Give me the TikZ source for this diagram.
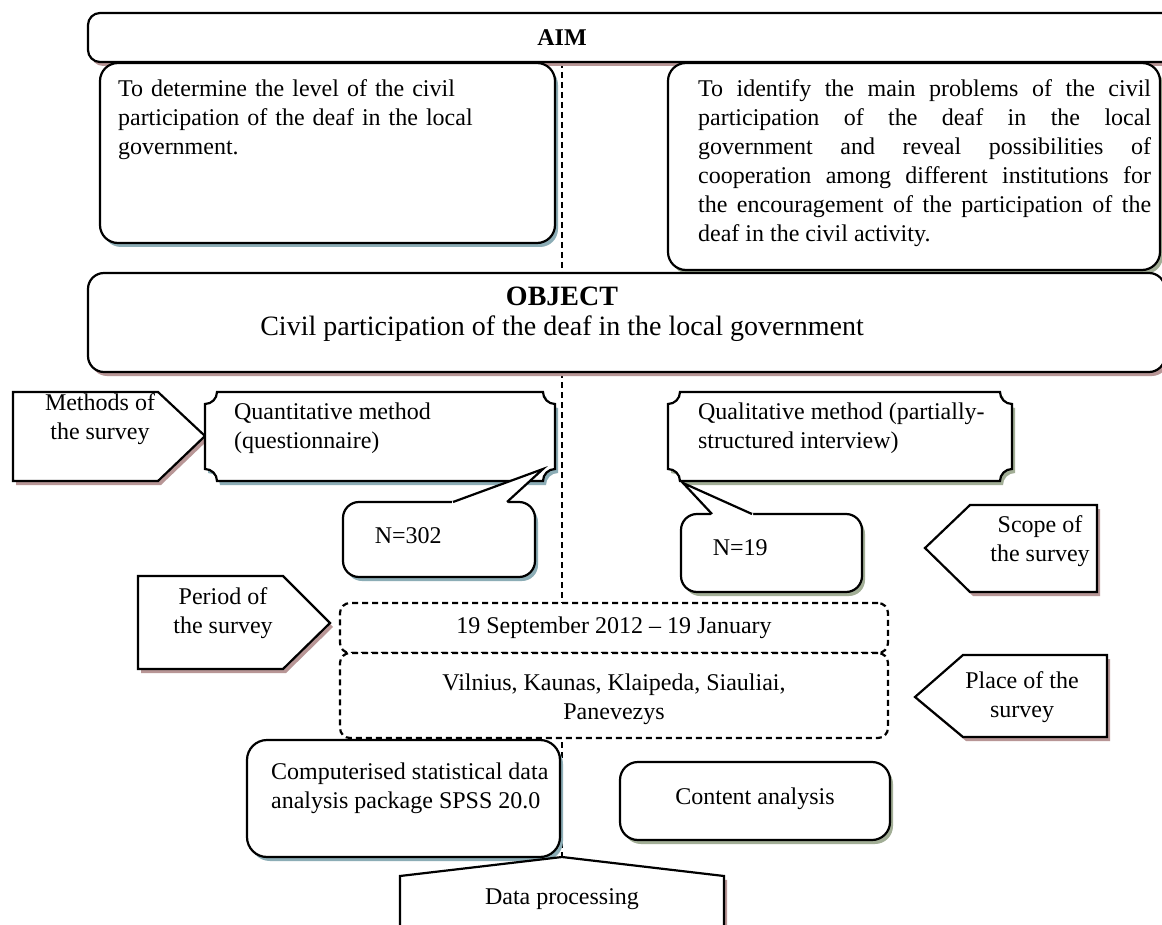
\documentclass[tikz,border=0pt]{standalone}
\usepackage{fontspec}
\setmainfont{Liberation Serif}
\usetikzlibrary{shapes,shadows,fit}
\definecolor{shpink}{HTML}{B89696}
\definecolor{shblue}{HTML}{8CADB6}
\definecolor{shgreen}{HTML}{A2AE96}
\tikzset{box/.style={draw,fill=white,rounded corners=9pt,inner sep=0pt},
  dbox/.style={draw,fill=white,dash pattern=on 3pt off 2pt,rounded corners=5pt,inner sep=0pt},
  pinkshadow/.style={drop shadow={shadow xshift=1.5pt,shadow yshift=-2pt,fill=shpink,opacity=1}},
  blueshadow/.style={drop shadow={shadow xshift=1.5pt,shadow yshift=-2pt,fill=shblue,opacity=1}},
  greenshadow/.style={drop shadow={shadow xshift=1.5pt,shadow yshift=-2pt,fill=shgreen,opacity=1}},
  txt/.style={inner sep=0pt,align=left},
  divline/.style={dash pattern=on 3pt off 2pt}}
% plaque with hollow corners: x1,y1,x2,y2,shadow
\newcommand{\plaque}[5]{\draw[#5,fill=white] (#1,#2+12) arc[start angle=90,end angle=0,radius=12]
  -- (#3-12,#2) arc[start angle=180,end angle=90,radius=12]
  -- (#3,#4-12) arc[start angle=270,end angle=180,radius=12]
  -- (#1+12,#4) arc[start angle=0,end angle=-90,radius=12] -- cycle;}
\begin{document}
\begin{tikzpicture}[x=0.5pt,y=-0.5pt,line width=1.1pt,every node/.style={font=\fontsize{12}{14.5}\selectfont}]
\useasboundingbox (0,0) rectangle (1162,925);
\clip (0,0) rectangle (1162,925);
\fill[white] (0,0) rectangle (1162,925);

\coordinate (divtop) at (562,62);
\coordinate (divbot) at (562,858);
\draw[divline] (divtop) -- (divbot);

% aim
\node[box,pinkshadow,rounded corners=6pt,fit={(88,13) (1185,62)}] (aim) {};
\node[font=\fontsize{12}{14}\selectfont\bfseries] (aimtxt) at (562,38) {AIM};
\node[box,blueshadow,fit={(100,63) (555,243)}] (aimL) {};
\node[txt,anchor=north west,text width=210pt] (aimLtxt) at (117,79)
  {To determine the level of the civil\\participation of the deaf in the local\\government.};
\node[box,greenshadow,fit={(668,63) (1160,270)}] (aimR) {};
\node[txt,anchor=north west,text width=226.5pt,align=justify] (aimRtxt) at (697,79)
  {To identify the main problems of the civil\linebreak
   participation of the deaf in the local\linebreak
   government and reveal possibilities of\linebreak
   cooperation among different institutions for\linebreak
   the encouragement of the participation of the\linebreak
   deaf in the civil activity.};

% object
\node[box,pinkshadow,rounded corners=8pt,fit={(88,273) (1165,372)}] (obj) {};
\node[align=center,font=\fontsize{14}{15}\selectfont] (objtxt) at (562,314)
  {\textbf{OBJECT}\\Civil participation of the deaf in the local government};

% methods
\draw[pinkshadow,fill=white] (13,392) -- (158,392) -- (205,436) -- (158,481) -- (13,481) -- cycle;
\node[align=center] (meth) at (100,419) {Methods of\\the survey};
\plaque{205}{392}{555}{481}{blueshadow}
\node[txt,anchor=north west] (quant) at (233,402) {Quantitative method\\(questionnaire)};
\plaque{668}{392}{1012}{481}{greenshadow}
\node[txt,anchor=north west] (qual) at (697,402) {Qualitative method (partially-\\structured interview)};

% scope
\node[box,blueshadow,rounded corners=8pt,fit={(343,502) (535,577)}] (n302) {};
\node[anchor=west] (n302txt) at (367,536) {N=302};
\coordinate (tipA) at (543,469);
\coordinate (baseA1) at (453,502);
\coordinate (baseA2) at (507,502);
\fill[white] (452,507) -- (452,501) -- (tipA) -- (508,501) -- (508,507) -- cycle;
\draw (baseA1) -- (tipA) -- (baseA2);

\node[box,greenshadow,rounded corners=8pt,fit={(681,514) (862,592)}] (n19) {};
\node[anchor=west] (n19txt) at (705,548) {N=19};
\coordinate (tipB) at (683,483);
\coordinate (baseB1) at (712,514);
\coordinate (baseB2) at (752,514);
\fill[white] (711,519) -- (711,513) -- (tipB) -- (753,513) -- (753,519) -- cycle;
\draw (baseB1) -- (tipB) -- (baseB2);

\draw[pinkshadow,fill=white] (925,548) -- (970,505) -- (1097,505) -- (1097,592) -- (970,592) -- cycle;
\node[align=center] (scope) at (1040,541) {Scope of\\the survey};

% period and place
\draw[pinkshadow,fill=white] (138,576) -- (283,576) -- (330,623) -- (283,669) -- (138,669) -- cycle;
\node[align=center] (period) at (223,613) {Period of\\the survey};
\node[dbox,fit={(340,603) (888,653)}] (dates) {};
\node (datestxt) at (614,628) {19 September 2012 – 19 January};
\node[dbox,fit={(340,653) (888,738)}] (place) {};
\node[align=center] (placetxt) at (614,699) {Vilnius, Kaunas, Klaipeda, Siauliai,\\Panevezys};
\draw[pinkshadow,fill=white] (915,697) -- (963,655) -- (1107,655) -- (1107,737) -- (963,737) -- cycle;
\node[align=center] (placelbl) at (1022,697) {Place of the\\survey};

% processing
\node[box,blueshadow,rounded corners=10pt,fit={(247,740) (560,857)}] (spss) {};
\node[txt,anchor=north west] (spsstxt) at (270,762)
  {Computerised statistical data\\analysis package SPSS 20.0};
\node[box,greenshadow,fit={(620,762) (890,840)}] (content) {};
\node (contenttxt) at (755,799) {Content analysis};
\draw[pinkshadow,fill=white] (562,857) -- (724,876) -- (724,940) -- (400,940) -- (400,876) -- cycle;
\node (datatxt) at (562,899) {Data processing};
\end{tikzpicture}
\end{document}
